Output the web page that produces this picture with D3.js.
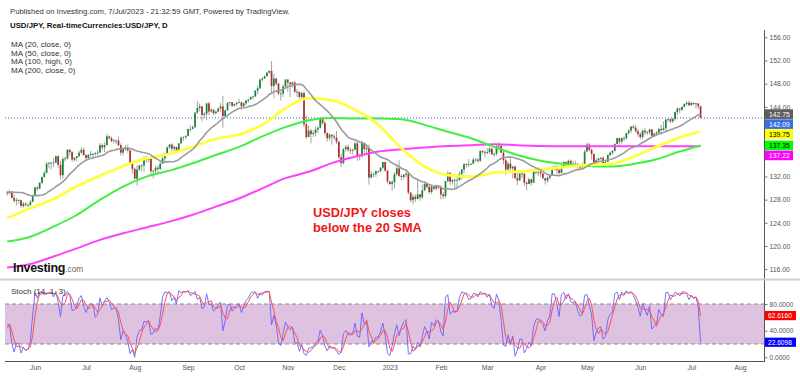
<!DOCTYPE html>
<html>
<head>
<meta charset="utf-8">
<script src="https://cdn.jsdelivr.net/npm/d3@7"></script>
<style>
  body { margin: 0; background: #fff; }
  svg { display: block; font-family: "Liberation Sans", Arial, sans-serif; }
</style>
</head>
<body>
<svg id="chart" width="800" height="376"></svg>
<script>
// USD/JPY daily, one value per weekday from 18 Apr 2022 to 7 Jul 2023.
// The first 20 bars are only there so MA20 and the stochastic have history.
const closes = [
  128.2,128.9,127.8,128.4,128.5,   // Apr 18
  128.1,127.2,128.4,130.8,129.7,   // Apr 25
  130.2,130.1,129.1,130.2,130.6,   // May 2
  130.3,130.4,129.9,128.3,129.2,   // May 9
  129.1,129.4,128.3,127.8,127.9,   // May 16
  127.9,126.9,127.3,127.1,127.1,   // May 23
  127.6,128.7,130.1,129.9,130.9,   // May 30
  131.9,132.6,134.2,134.3,134.4,   // Jun 6
  134.4,135.5,134.0,132.2,135.0,   // Jun 13
  135.1,136.6,136.2,134.9,135.2,   // Jun 20
  135.5,136.1,136.6,135.7,135.2,   // Jun 27
  135.7,135.9,135.9,136.0,136.1,   // Jul 4
  137.4,137.0,137.4,138.9,138.6,   // Jul 11
  138.1,138.2,138.2,137.4,136.1,   // Jul 18
  136.7,136.9,136.5,134.3,133.3,   // Jul 25
  131.6,133.2,133.9,133.9,135.0,   // Aug 1
  134.9,135.1,132.9,133.0,133.5,   // Aug 8
  133.3,134.2,135.1,135.9,137.0,   // Aug 15
  137.5,136.8,137.1,136.5,137.7,   // Aug 22
  138.7,138.8,139.0,140.2,140.2,   // Aug 29
  140.5,143.0,143.8,144.1,142.6,   // Sep 5
  142.8,144.6,143.2,143.5,142.9,   // Sep 12
  143.2,143.7,144.1,142.4,143.4,   // Sep 19
  144.7,144.8,144.2,144.5,144.7,   // Sep 26
  144.8,144.1,144.6,145.1,145.3,   // Oct 3
  145.7,145.8,146.8,147.2,148.7,   // Oct 10
  148.9,149.3,149.9,150.2,147.6,   // Oct 17
  148.9,148.0,146.3,146.3,147.5,   // Oct 24
  148.7,148.2,147.9,148.2,146.6,   // Oct 31
  146.6,145.7,146.4,141.0,138.8,   // Nov 7
  139.9,139.3,139.5,140.1,140.4,   // Nov 14
  142.1,141.2,139.5,138.6,139.2,   // Nov 21
  138.9,138.7,138.0,135.3,134.3,   // Nov 28
  136.7,137.1,136.6,136.5,136.6,   // Dec 5
  137.7,135.6,135.5,137.8,136.7,   // Dec 12
  136.9,131.8,132.4,132.4,132.9,   // Dec 19
  132.9,133.5,134.5,133.0,131.1,   // Dec 26
  130.7,131.0,132.4,133.4,132.1,   // Jan 2 2023
  131.9,132.3,132.5,129.2,127.9,   // Jan 9
  128.5,128.1,128.9,128.4,129.6,   // Jan 16
  130.7,130.2,129.3,130.2,129.9,   // Jan 23
  130.4,130.1,128.9,128.6,131.2,   // Jan 30
  132.6,131.1,131.4,131.4,131.4,   // Feb 6
  132.4,133.2,134.1,134.0,134.1,   // Feb 13
  134.2,134.9,134.9,134.7,136.4,   // Feb 20
  136.2,136.2,136.2,136.8,135.8,   // Feb 27
  135.9,137.2,137.3,136.1,134.8,   // Mar 6
  133.2,134.2,133.4,133.7,131.7,   // Mar 13
  131.3,132.5,132.5,130.9,130.7,   // Mar 20
  131.5,130.9,132.8,132.7,132.8,   // Mar 27
  132.5,131.7,131.3,131.8,132.1,   // Apr 3
  133.6,133.7,133.1,132.6,133.8,   // Apr 10
  134.5,134.1,134.7,134.2,134.1,   // Apr 17
  134.2,133.7,133.6,133.9,136.3,   // Apr 24
  137.5,136.6,135.9,134.2,134.8,   // May 1
  135.1,135.2,134.3,134.5,135.7,   // May 8
  136.1,136.4,137.6,138.6,138.0,   // May 15
  138.6,138.6,139.5,139.9,140.6,   // May 22
  140.4,139.8,139.3,138.8,139.9,   // May 29
  139.6,139.6,140.1,139.0,139.4,   // Jun 5
  139.6,140.2,140.0,140.3,141.8,   // Jun 12
  141.9,141.5,141.9,143.1,143.7,   // Jun 19
  143.5,144.0,144.5,144.7,144.3,   // Jun 26
  144.7,144.5,144.6,144.1,142.09   // Jul 3
];
const highs = [
  128.9,129.4,129.4,128.6,128.8,
  128.8,128.3,128.5,131.25,131.0,
  130.4,130.5,130.4,130.5,130.8,
  131.35,130.6,130.8,129.9,129.4,
  129.5,129.7,129.3,128.9,128.3,
  128.1,128.0,127.6,127.6,127.3,
  127.9,128.9,130.2,130.3,131.0,
  132.0,133.0,134.5,134.55,134.5,
  135.2,135.6,135.6,134.7,135.4,
  135.4,136.7,136.7,136.4,135.4,
  135.55,136.4,137.0,137.0,135.8,
  135.9,136.4,136.0,136.2,136.6,
  137.75,137.7,137.9,139.4,139.1,
  138.9,138.4,138.4,138.9,137.7,
  136.9,137.5,137.5,136.6,134.6,
  133.5,133.9,134.0,134.1,135.5,
  135.6,135.3,135.2,133.2,133.9,
  133.9,134.6,135.5,136.0,137.2,
  137.6,137.7,137.3,137.1,137.7,
  138.9,138.9,139.1,140.2,140.8,
  140.8,143.1,145.0,144.6,143.2,
  143.1,144.7,144.9,143.8,143.6,
  143.3,143.9,144.7,145.9,143.5,
  144.8,144.9,144.8,144.6,144.9,
  145.4,144.9,144.8,145.2,145.4,
  145.8,145.9,146.9,147.7,148.9,
  149.1,149.4,149.95,150.3,151.9,
  149.7,149.0,148.2,146.8,147.9,
  148.8,148.8,148.3,148.4,148.5,
  147.1,146.6,146.6,146.7,142.5,
  140.8,140.2,140.0,140.6,140.6,
  142.3,142.2,141.6,139.6,139.5,
  139.1,139.3,139.9,138.1,135.9,
  136.9,137.4,137.5,137.0,136.8,
  138.0,138.0,135.9,138.2,137.6,
  137.4,137.5,132.9,132.7,133.0,
  133.0,133.6,134.5,134.5,133.1,
  131.2,131.4,132.7,134.0,134.8,
  132.3,132.4,132.9,132.5,129.3,
  128.9,128.9,131.6,129.0,130.6,
  131.1,130.9,130.5,130.6,130.4,
  130.6,130.5,130.5,129.3,131.2,
  132.9,132.8,131.6,131.7,131.9,
  132.9,133.3,134.3,134.3,135.0,
  134.3,135.2,135.2,135.1,136.5,
  136.5,136.5,136.9,137.1,136.9,
  136.1,137.4,137.9,137.1,136.6,
  135.1,134.6,135.1,133.8,133.9,
  132.6,132.6,133.0,132.0,131.1,
  131.8,131.6,133.0,133.1,133.6,
  133.2,132.6,131.7,132.0,132.4,
  133.8,133.9,134.0,133.5,134.0,
  134.6,134.5,134.9,134.9,134.7,
  134.7,134.2,133.8,134.3,136.6,
  137.8,137.8,136.8,135.1,135.1,
  135.2,135.4,135.5,134.8,135.8,
  136.3,136.6,137.7,138.7,138.7,
  138.7,138.9,139.5,140.2,140.7,
  140.9,140.9,140.2,139.6,140.1,
  140.4,139.9,140.2,140.2,139.5,
  139.8,140.3,140.9,141.5,141.9,
  142.0,142.0,142.2,143.2,143.9,
  143.8,144.1,144.6,145.0,145.1,
  144.9,144.7,144.7,144.6,144.2
];
const lows = [
  126.6,127.9,127.5,127.4,127.7,
  127.5,126.95,127.0,128.5,128.6,
  129.5,129.9,128.6,128.8,129.9,
  130.1,129.8,129.6,127.5,128.3,
  128.7,128.9,128.2,127.5,127.0,
  127.2,126.6,126.6,126.8,126.7,
  126.9,127.6,128.6,129.5,129.8,
  130.7,131.8,132.5,133.4,133.2,
  133.6,134.3,133.5,131.5,131.6,
  134.6,134.9,135.6,134.5,134.6,
  134.6,135.3,135.8,135.5,134.8,
  135.0,135.4,134.9,135.6,135.6,
  136.1,136.6,136.2,137.4,138.4,
  137.9,137.7,137.6,137.2,135.6,
  135.6,136.4,136.1,134.0,132.5,
  131.6,130.4,132.9,132.9,132.8,
  134.4,134.4,132.2,131.7,132.4,
  132.6,133.1,134.2,134.6,135.8,
  136.8,136.3,136.1,136.2,136.3,
  137.9,138.1,138.4,138.9,139.7,
  140.1,140.4,142.8,143.2,141.5,
  142.0,141.7,142.6,143.0,142.6,
  142.7,143.1,143.2,140.4,142.4,
  143.3,144.2,143.9,144.1,144.1,
  144.6,143.5,143.8,144.3,144.7,
  145.2,145.3,145.7,146.2,147.1,
  148.4,148.8,149.2,149.7,146.2,
  145.5,147.7,146.0,145.1,145.7,
  147.4,146.6,145.7,147.3,146.4,
  145.7,145.3,145.3,140.5,138.5,
  138.8,137.7,138.8,138.9,139.5,
  140.3,140.9,139.1,138.0,138.2,
  137.5,138.3,137.6,135.0,133.6,
  134.1,136.3,136.2,135.9,135.8,
  136.6,134.7,134.8,135.2,136.0,
  135.8,130.6,131.7,131.8,131.9,
  132.6,132.7,133.3,132.8,130.8,
  130.5,129.5,129.9,132.1,131.9,
  131.3,131.5,131.8,128.9,127.5,
  127.2,127.6,128.1,127.8,128.1,
  129.5,129.9,129.0,129.0,129.6,
  129.6,129.8,128.1,128.1,128.3,
  131.0,130.5,130.6,129.8,129.8,
  131.2,131.5,132.6,133.5,133.6,
  133.9,134.1,134.5,134.3,134.5,
  135.9,135.3,135.8,135.9,135.8,
  135.4,135.6,136.9,136.0,134.1,
  132.3,132.9,132.9,131.7,131.6,
  130.5,131.3,131.7,130.4,129.6,
  130.8,130.4,130.9,132.3,132.1,
  131.9,131.5,130.6,130.9,131.5,
  132.1,133.0,132.5,132.3,132.7,
  133.6,133.8,133.9,134.0,133.8,
  134.0,133.0,133.0,133.4,133.5,
  136.3,136.3,134.9,133.5,133.9,
  134.6,134.8,133.8,133.7,134.6,
  135.4,135.7,136.3,137.5,137.4,
  137.6,138.1,138.3,139.2,139.5,
  140.2,139.5,138.8,138.4,138.4,
  139.2,139.2,139.2,138.8,138.8,
  139.2,139.4,139.2,139.9,139.9,
  141.4,141.21,141.25,141.6,142.6,
  142.9,143.3,143.9,144.2,144.1,
  144.2,144.3,143.7,143.6,142.0
];

// MA50 / MA100(high) / MA200 every second Monday, plus the last bar
const maDates = [
  "2022-05-16","2022-05-30","2022-06-13","2022-06-27","2022-07-11","2022-07-25",
  "2022-08-08","2022-08-22","2022-09-05","2022-09-19","2022-10-03","2022-10-17",
  "2022-10-31","2022-11-14","2022-11-28","2022-12-12","2022-12-26","2023-01-09",
  "2023-01-23","2023-02-06","2023-02-20","2023-03-06","2023-03-20","2023-04-03",
  "2023-04-17","2023-05-01","2023-05-15","2023-05-29","2023-06-12","2023-06-26",
  "2023-07-07"
];
const ma50 = [
  124.8,126.5,128.1,130.3,132.1,133.8,135.1,135.9,137.1,138.5,139.2,140.9,
  143.75,145.5,145.1,143.5,140.9,136.85,133.7,132.25,131.97,132.66,132.83,133.2,
  133.6,133.98,134.15,135.4,137.1,138.75,139.75
];
const ma100 = [
  120.76,121.6,123.35,125.35,127.95,130.25,131.97,133.0,134.27,135.7,137.1,138.9,
  140.5,141.7,142.1,142.0,142.0,141.85,140.9,139.7,138.6,137.1,135.7,134.7,
  134.15,133.8,133.7,134.15,134.95,136.3,137.35
];
const ma200 = [
  116.3,116.9,118.2,119.6,121.05,122.2,123.2,124.2,125.4,126.8,128.2,129.95,
  131.7,132.8,134.3,135.4,136.3,136.7,137.0,137.25,137.4,137.55,137.4,137.25,
  137.2,137.2,137.2,137.2,137.2,137.22,137.22
];

// tags on the right axes (MA20, last, MA50, MA100, MA200) and (%D, %K)
const priceTags = [142.75, 142.09, 139.75, 137.35, 137.22];
const stochTags = [62.6160, 22.6098];

const priceTicks = [116, 120, 124, 128, 132, 136, 140, 144, 148, 152, 156];
const stochTicks = [0, 40, 80];
const monthStarts = ["2022-06-01","2022-07-01","2022-08-01","2022-09-01","2022-10-01","2022-11-01",
  "2022-12-01","2023-01-01","2023-02-01","2023-03-01","2023-04-01","2023-05-01","2023-06-01",
  "2023-07-01","2023-08-01"];
const monthLabels = ["Jun","Jul","Aug","Sep","Oct","Nov","Dec","2023","Feb","Mar","Apr","May","Jun","Jul","Aug"];

const legendLines = ["MA (20, close, 0)", "MA (50, close, 0)", "MA (100, high, 0)", "MA (200, close, 0)"];

// ------------------------------------------------------------
const svg = d3.select("#chart");
const parse = d3.timeParse("%Y-%m-%d");
const fmt = d3.timeFormat("%Y-%m-%d");

// trading calendar (weekdays only, like the TradingView daily axis)
const days = d3.timeDay.range(new Date(2022, 3, 18), new Date(2023, 7, 10))
  .filter(d => d.getDay() !== 0 && d.getDay() !== 6);
const dayIndex = new Map(days.map((d, i) => [fmt(d), i]));
const firstOnOrAfter = s => days.findIndex(d => d >= parse(s));

const bars = closes.map((c, i) => {
  const o = i ? closes[i - 1] : c;
  return {i, o, c, h: Math.max(highs[i], o, c), l: Math.min(lows[i], o, c)};
});
const firstShown = dayIndex.get("2022-05-16");
const shown = bars.filter(b => b.i >= firstShown);

const x = d3.scaleLinear()
  .domain([firstOnOrAfter("2022-06-01"), firstOnOrAfter("2023-08-01")])
  .range([35, 740]);
const y = d3.scaleLinear().domain([116, 156]).range([269.2, 37.3]);
const ys = d3.scaleLinear().domain([0, 100]).range([357.3, 290.7]);

const L = 5, R = 764;

const defs = svg.append("defs");
defs.append("clipPath").attr("id", "clipMain")
  .append("rect").attr("x", L).attr("y", 30).attr("width", R - L).attr("height", 248);
defs.append("clipPath").attr("id", "clipStoch")
  .append("rect").attr("x", L).attr("y", 281).attr("width", R - L).attr("height", 80);

// ---------- header ----------
svg.append("text").attr("x", 10).attr("y", 14)
  .attr("font-size", 7.7).attr("fill", "#333")
  .text("Published on Investing.com, 7/Jul/2023 - 21:32:59 GMT, Powered by TradingView.");
svg.append("text").attr("x", 10).attr("y", 28)
  .attr("font-size", 7.8).attr("font-weight", "bold").attr("fill", "#111")
  .text("USD/JPY, Real-timeCurrencies:USD/JPY, D");
svg.append("g").selectAll("text").data(legendLines).join("text")
  .attr("x", 11).attr("y", (d, k) => 47.3 + k * 8.5)
  .attr("font-size", 8).attr("fill", "#333")
  .text(d => d);

// ---------- main panel ----------
const main = svg.append("g").attr("clip-path", "url(#clipMain)");

// last price dotted line
main.append("line")
  .attr("x1", L).attr("x2", R)
  .attr("y1", y(priceTags[1])).attr("y2", y(priceTags[1]))
  .attr("stroke", "#3d5fd6").attr("stroke-width", 1).attr("stroke-dasharray", "1,2");

// candles
const cg = main.append("g");
cg.selectAll("line").data(shown).join("line")
  .attr("x1", d => x(d.i)).attr("x2", d => x(d.i))
  .attr("y1", d => y(d.h)).attr("y2", d => y(d.l))
  .attr("stroke", "#9a9a9a").attr("stroke-width", 0.9);
cg.selectAll("rect").data(shown).join("rect")
  .attr("x", d => x(d.i) - 0.85).attr("width", 1.7)
  .attr("y", d => y(Math.max(d.o, d.c)))
  .attr("height", d => Math.max(0.8, Math.abs(y(d.o) - y(d.c))))
  .attr("fill", d => d.c >= d.o ? "#17823a" : "#b02e26");

// moving averages
const sampled = vals => maDates.map((s, k) => ({i: dayIndex.get(s), v: vals[k]}));
const smooth = d3.line().x(d => x(d.i)).y(d => y(d.v)).curve(d3.curveMonotoneX);
const ma20 = shown.map(b => ({i: b.i, v: d3.mean(closes.slice(b.i - 19, b.i + 1))}));

main.append("path").attr("d", smooth(sampled(ma200)))
  .attr("fill", "none").attr("stroke", "#ff40ff").attr("stroke-width", 2);
main.append("path").attr("d", smooth(sampled(ma100)))
  .attr("fill", "none").attr("stroke", "#40f040").attr("stroke-width", 2);
main.append("path").attr("d", smooth(sampled(ma50)))
  .attr("fill", "none").attr("stroke", "#ffff40").attr("stroke-width", 2.8);
main.append("path").attr("d", d3.line().x(d => x(d.i)).y(d => y(d.v))(ma20))
  .attr("fill", "none").attr("stroke", "#9b9b9b").attr("stroke-width", 1.6);

// annotation + logo
const note = svg.append("text").attr("font-size", 12.8).attr("font-weight", "bold").attr("fill", "#f01616");
note.append("tspan").attr("x", 313).attr("y", 216.5).text("USD/JPY closes");
note.append("tspan").attr("x", 313).attr("y", 231.5).text("below the 20 SMA");

const logo = svg.append("text").attr("x", 13).attr("y", 271.5);
logo.append("tspan").attr("font-size", 12.5).attr("font-weight", "bold").attr("fill", "#111")
  .attr("letter-spacing", -0.3).text("Investing");
logo.append("tspan").attr("font-size", 8.3).attr("fill", "#666").text(".com");

// price axis: tick labels that would sit under a value tag are left out
const tagY = [];
let prevY = -Infinity;
priceTags.forEach(v => { prevY = Math.max(y(v), prevY + 10); tagY.push(prevY); });
const freeTicks = priceTicks.filter(t => tagY.every(cy => Math.abs(y(t) - cy) > 6.5));

svg.append("line").attr("x1", R + 0.5).attr("x2", R + 0.5).attr("y1", 30).attr("y2", 362)
  .attr("stroke", "#555").attr("stroke-width", 1);
const yAxis = svg.append("g").attr("transform", `translate(${R + 0.5},0)`)
  .call(d3.axisRight(y).tickValues(freeTicks).tickFormat(d3.format(".2f")).tickSize(3).tickPadding(2));
yAxis.select(".domain").remove();
yAxis.selectAll("text").attr("font-size", 6.8).attr("fill", "#555").attr("font-family", null);
yAxis.selectAll("line").attr("stroke", "#777");

const tagStyle = [["#5d5d5d", "#fff"], ["#3b6ee0", "#fff"], ["#ffff00", "#000"], ["#00ff00", "#000"], ["#ff00ff", "#fff"]];
priceTags.forEach((v, k) => {
  const cy = tagY[k];
  svg.append("rect").attr("x", R + 1).attr("y", cy - 4.8).attr("width", 28).attr("height", 9.6)
    .attr("fill", tagStyle[k][0]);
  svg.append("text").attr("x", R + 5).attr("y", cy + 2.5)
    .attr("font-size", 6.8).attr("fill", tagStyle[k][1]).text(v.toFixed(2));
});

// panel separator
svg.append("line").attr("x1", 0).attr("x2", 800).attr("y1", 279.5).attr("y2", 279.5)
  .attr("stroke", "#cfcfcf").attr("stroke-width", 2);

// ---------- stochastic (14, 1, 3) ----------
const kVals = bars.map((b, i) => {
  if (i < 13) return null;
  const win = bars.slice(i - 13, i + 1);
  const hh = d3.max(win, w => w.h);
  const ll = d3.min(win, w => w.l);
  return 100 * (b.c - ll) / (hh - ll);
});
const dVals = kVals.map((k, i) => (i < 15 ? null : (kVals[i] + kVals[i - 1] + kVals[i - 2]) / 3));

const st = svg.append("g").attr("clip-path", "url(#clipStoch)");
st.append("rect").attr("x", L).attr("width", R - L)
  .attr("y", ys(80)).attr("height", ys(20) - ys(80)).attr("fill", "#dfc2e0");
[20, 80].forEach(v => st.append("line").attr("x1", L).attr("x2", R).attr("y1", ys(v)).attr("y2", ys(v))
  .attr("stroke", "#8a8a8a").attr("stroke-dasharray", "4,3").attr("stroke-width", 1));

const sLine = vals => d3.line().x(d => x(d.i)).y(d => ys(d.v))(shown.map(b => ({i: b.i, v: vals[b.i]})));
st.append("path").attr("d", sLine(kVals)).attr("fill", "none").attr("stroke", "#6464ff").attr("stroke-width", 1).attr("opacity", 0.9);
st.append("path").attr("d", sLine(dVals)).attr("fill", "none").attr("stroke", "#ff5050").attr("stroke-width", 1);

svg.append("text").attr("x", 11).attr("y", 293.8).attr("font-size", 8).attr("fill", "#333").text("Stoch (14, 1, 3)");

const sAxis = svg.append("g").attr("transform", `translate(${R + 0.5},0)`)
  .call(d3.axisRight(ys).tickValues(stochTicks).tickFormat(d3.format(".4f")).tickSize(3).tickPadding(2));
sAxis.select(".domain").remove();
sAxis.selectAll("text").attr("font-size", 6.6).attr("fill", "#555").attr("font-family", null);
sAxis.selectAll("line").attr("stroke", "#777");

const sTagStyle = ["#ff0000", "#0000ff"];
stochTags.forEach((v, k) => {
  const cy = ys(v);
  svg.append("rect").attr("x", R + 1).attr("y", cy - 4.6).attr("width", 31).attr("height", 9.2).attr("fill", sTagStyle[k]);
  svg.append("text").attr("x", R + 4).attr("y", cy + 2.4).attr("font-size", 6.6).attr("fill", "#fff").text(v.toFixed(4));
});

// ---------- time axis ----------
svg.append("line").attr("x1", L).attr("x2", R).attr("y1", 361.5).attr("y2", 361.5).attr("stroke", "#555");
const xAxis = svg.append("g").attr("transform", "translate(0,361.5)")
  .call(d3.axisBottom(x).tickValues(monthStarts.map(firstOnOrAfter))
    .tickFormat((d, k) => monthLabels[k]).tickSize(0).tickPadding(3.5));
xAxis.select(".domain").remove();
xAxis.selectAll("text").attr("font-size", 6.8).attr("fill", "#555").attr("font-family", null);
</script>
</body>
</html>
